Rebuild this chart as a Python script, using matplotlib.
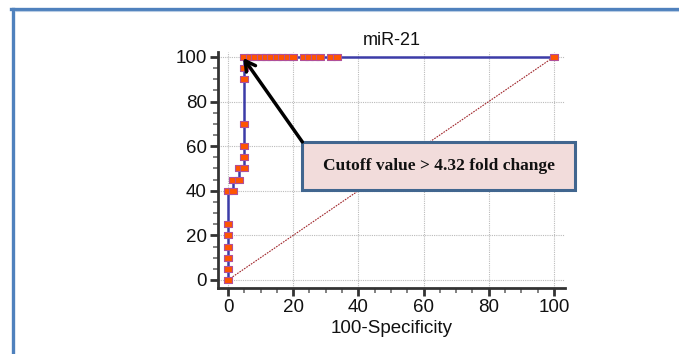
import matplotlib
matplotlib.use("Agg")
import matplotlib.pyplot as plt
from matplotlib.lines import Line2D
from matplotlib.patches import Rectangle
from matplotlib.ticker import MultipleLocator

# ROC data (100-Specificity, Sensitivity)
fpr = [0, 0, 0, 0, 0, 0, 0, 1.67, 1.67, 3.33, 3.33, 5, 5, 5, 5, 5, 5, 5,
       6.67, 8.33, 10, 11.67, 13.33, 15, 16.67, 18.33, 20,
       23.33, 25, 26.67, 28.33, 31.67, 33.33, 100]
tpr = [0, 5, 10, 15, 20, 25, 40, 40, 45, 45, 50, 50, 55, 60, 70, 90, 95, 100,
       100, 100, 100, 100, 100, 100, 100, 100, 100,
       100, 100, 100, 100, 100, 100, 100]
diag_x = [0, 100]
diag_y = [0, 100]
title = "miR-21"
xlabel = "100-Specificity"
ticks = [0, 20, 40, 60, 80, 100]
note = "Cutoff value > 4.32 fold change"
cutoff_point = (5, 100)

plt.rcParams['font.family'] = ['Liberation Sans', 'DejaVu Sans']

fig = plt.figure(figsize=(6.79, 3.54), dpi=100)
W, H = 679, 354

# outer frame (left and top blue lines)
fig.add_artist(Line2D([12.5 / W, 12.5 / W], [0, 1 - 8.5 / H], transform=fig.transFigure,
                      color='#4F81BD', lw=2.4))
fig.add_artist(Line2D([11 / W, 1], [1 - 8.5 / H, 1 - 8.5 / H], transform=fig.transFigure,
                      color='#4F81BD', lw=2.4))
fig.add_artist(Line2D([15 / W, 1], [1 - 10.5 / H, 1 - 10.5 / H], transform=fig.transFigure,
                      color='#B8CCE4', lw=0.8))

ax = fig.add_axes([218 / W, 1 - 288 / H, (565 - 218) / W, (288 - 52) / H])
ax.set_xlim(-3.07, 103.4)
ax.set_ylim(-3.6, 102.2)

ax.grid(True, which='major', color='#BBBBBB', linestyle=(0, (1, 1)), lw=0.8)
ax.set_axisbelow(True)

rect_marker = [(-1.25, -1), (1.25, -1), (1.25, 1), (-1.25, 1), (-1.25, -1)]
ax.plot(diag_x, diag_y, color='#A0252A', lw=0.8, linestyle=(0, (1.5, 1)), zorder=2)
ax.plot(fpr, tpr, color='#3C3CA8', lw=1.8, marker=rect_marker, markersize=5.8,
        markerfacecolor='#FF5500', markeredgecolor='#B0509A', markeredgewidth=0.8,
        zorder=3)

for s in ['top', 'right']:
    ax.spines[s].set_visible(False)
for s in ['left', 'bottom']:
    ax.spines[s].set_color('#333333')
    ax.spines[s].set_linewidth(2)

ax.set_xticks(ticks)
ax.set_yticks(ticks)
ax.xaxis.set_minor_locator(MultipleLocator(5))
ax.yaxis.set_minor_locator(MultipleLocator(5))
ax.tick_params(which='major', direction='out', length=6, width=2, color='#333333',
               labelsize=13.5, labelcolor='#111111', pad=2)
ax.tick_params(which='minor', direction='out', length=3.5, width=1.3, color='#777777')

ax.set_title(title, fontsize=13, pad=5, color='#111111')
ax.set_xlabel(xlabel, fontsize=13.5, labelpad=3, color='#111111')

# annotation box
x0, x1 = 22.8, 106.4
y0, y1 = 40.4, 61.9
ax.add_patch(Rectangle((x0, y0), x1 - x0, y1 - y0, facecolor='#F2DCDB',
                       edgecolor='#41668F', lw=2.2, clip_on=False, zorder=5))
ax.text((x0 + x1) / 2, (y0 + y1) / 2, note, family=['Liberation Serif', 'DejaVu Serif'],
        fontweight='bold', fontsize=12.5, ha='center', va='center', zorder=6,
        clip_on=False, color='#111111')
ax.annotate('', xy=(cutoff_point[0] - 0.3, cutoff_point[1] - 0.5), xytext=(x0, y1),
            arrowprops=dict(arrowstyle='->,head_length=0.7,head_width=0.4',
                            color='black', lw=2.5, shrinkA=0, shrinkB=0),
            zorder=7, annotation_clip=False)

fig.savefig('out.png', dpi=100)
